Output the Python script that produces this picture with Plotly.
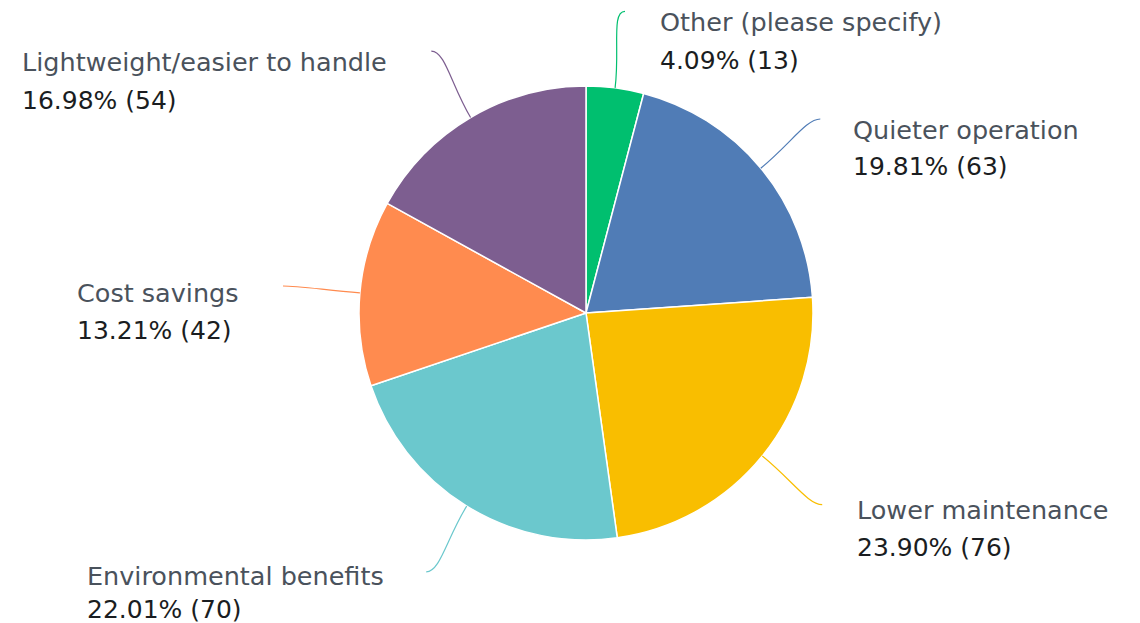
import math
import plotly.graph_objects as go

# ---- data ----
categories = ["Other (please specify)", "Quieter operation", "Lower maintenance",
              "Environmental benefits", "Cost savings", "Lightweight/easier to handle"]
percents = [4.09, 19.81, 23.90, 22.01, 13.21, 16.98]
counts = [13, 63, 76, 70, 42, 54]
colors = ["#00BF6F", "#507CB6", "#F9BE00", "#6BC8CD", "#FF8B4F", "#7D5E90"]

# ---- layout (screen pixel positions; page body has an 8px margin) ----
PAGE_W, PAGE_H, BODY = 1140, 623, 8
W, H = PAGE_W - BODY, PAGE_H - BODY
CX, CY, R = 586, 313, 227
# label anchor points (left x, name-line y, value-line y)
label_pos = [(658, 22, 60), (851, 130, 166), (855, 510, 547),
             (85, 576, 609), (75, 293, 330), (20, 62, 100)]

FONT = "DejaVu Sans"
NAME_COLOR = "#4A525C"
VAL_COLOR = "#1A1D21"
FS_NAME = 25.5
FS_VAL = 25


def px(x):
    return (x - BODY) / W


def py(y):
    return 1 - (y - BODY) / H


fig = go.Figure()
fig.add_trace(go.Pie(
    labels=categories, values=counts, sort=False, direction="clockwise", rotation=0,
    marker=dict(colors=colors, line=dict(color="white", width=1.5)),
    textinfo="none", hoverinfo="label+percent", showlegend=False,
    domain=dict(x=[px(CX - R), px(CX + R)], y=[py(CY + R), py(CY - R)]),
))

# leader lines from slice mid-angles
total = sum(counts)
cum = 0
shapes = []
annotations = []
for i, c in enumerate(counts):
    mid = (cum + c / 2) / total * 2 * math.pi
    cum += c
    s, co = math.sin(mid), math.cos(mid)
    p0 = (CX + R * s, CY - R * co)
    p1 = (CX + 1.17 * R * s, CY - 1.17 * R * co)
    p3 = (CX + 1.34 * R * s, CY - 1.34 * R * co)
    side = 1 if s >= 0 else -1
    p2 = (p3[0] - side * 14, p3[1])
    path = f"M {p0[0]:.1f},{p0[1]:.1f} C {p1[0]:.1f},{p1[1]:.1f} {p2[0]:.1f},{p2[1]:.1f} {p3[0]:.1f},{p3[1]:.1f}"
    shapes.append(dict(type="path", path=path, xref="x", yref="y",
                       line=dict(color=colors[i], width=1.2), layer="above"))
    lx, ny, vy = label_pos[i]
    annotations.append(dict(x=lx, y=ny, xref="x", yref="y", text=categories[i],
                            showarrow=False, xanchor="left", yanchor="middle",
                            font=dict(family=FONT, size=FS_NAME, color=NAME_COLOR)))
    annotations.append(dict(x=lx, y=vy, xref="x", yref="y",
                            text=f"{percents[i]:.2f}% ({counts[i]})",
                            showarrow=False, xanchor="left", yanchor="middle",
                            font=dict(family=FONT, size=FS_VAL, color=VAL_COLOR)))

fig.update_layout(
    width=W, height=H, margin=dict(l=0, r=0, t=0, b=0),
    paper_bgcolor="white", plot_bgcolor="rgba(0,0,0,0)",
    xaxis=dict(range=[BODY, PAGE_W], visible=False, fixedrange=True, domain=[0, 1]),
    yaxis=dict(range=[PAGE_H, BODY], visible=False, fixedrange=True, domain=[0, 1]),
    shapes=shapes, annotations=annotations,
)

fig.write_html("out.html")
